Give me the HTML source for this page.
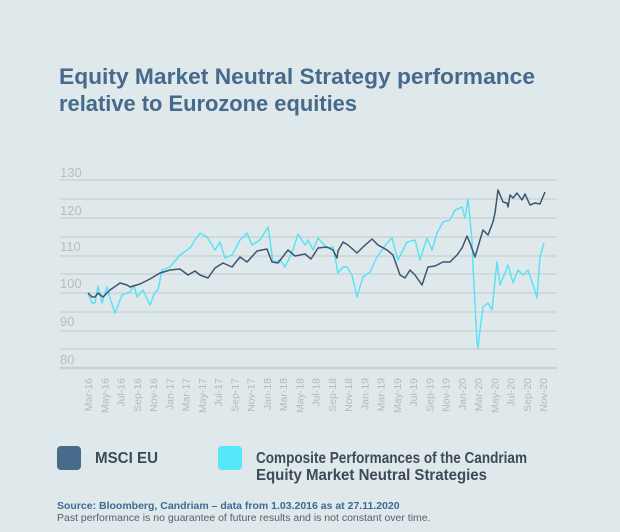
<!DOCTYPE html>
<html><head><meta charset="utf-8"><style>
html,body{margin:0;padding:0;background:#dfe8ea;}
svg{display:block;font-family:"Liberation Sans",Arial,sans-serif;}
</style></head><body>
<svg width="620" height="532" viewBox="0 0 620 532" xmlns="http://www.w3.org/2000/svg">
<rect width="620" height="532" fill="#dfe8ea"/>
<text x="59" y="84" font-size="22" font-weight="bold" fill="#466a8c" textLength="476" lengthAdjust="spacingAndGlyphs">Equity Market Neutral Strategy performance</text>
<text x="59" y="111" font-size="22" font-weight="bold" fill="#466a8c" textLength="298" lengthAdjust="spacingAndGlyphs">relative to Eurozone equities</text>
<g stroke="#c5d1d5" stroke-width="1.2">
<line x1="60" x2="557" y1="180" y2="180"/><line x1="60" x2="557" y1="199" y2="199"/>
<line x1="60" x2="557" y1="218" y2="218"/><line x1="60" x2="557" y1="237" y2="237"/>
<line x1="60" x2="557" y1="256" y2="256"/><line x1="60" x2="557" y1="274" y2="274"/>
<line x1="60" x2="557" y1="293" y2="293"/><line x1="60" x2="557" y1="312" y2="312"/>
<line x1="60" x2="557" y1="331" y2="331"/><line x1="60" x2="557" y1="349" y2="349"/>
</g>
<line x1="60" x2="557" y1="368" y2="368" stroke="#c5d1d5" stroke-width="2.5"/>
<g font-size="13" fill="#b3bfc4">
<text x="60" y="177">130</text><text x="60" y="215">120</text><text x="60" y="251">110</text>
<text x="60" y="288">100</text><text x="60" y="326">90</text><text x="60" y="364">80</text>
</g>
<polyline fill="none" stroke="#53e3f5" stroke-width="1.4" stroke-linejoin="round" points="88,293 92,303 95,303 98,286 102,303 107,287 110,298 115,313 122,295 130,292 134,285 137,297 143,290 150,305 155,292 158,290 162,270 170,267 180,255 190,248 195,240 200,233 207,237 215,250 220,242 225,258 232,255 240,240 247,233 252,245 260,240 268,227 273,262 280,260 285,267 293,250 298,234 305,245 308,240 313,250 318,238 327,248 333,247 338,273 343,267 347,267 352,275 357,297 363,277 370,272 377,257 382,250 387,243 392,238 398,260 407,242 415,240 420,260 427,238 432,250 437,233 443,222 450,220 455,210 462,207 465,218 468,199 472,240 473,267 477,342 478,348 480,330 483,307 488,303 492,310 497,262 500,285 505,273 508,265 513,283 518,270 523,275 528,270 533,285 537,298 540,257 544,243"/>
<polyline fill="none" stroke="#3b5573" stroke-width="1.5" stroke-linejoin="round" points="88,293 92,297 95,297 98,293 103,297 110,290 120,283 127,285 130,287 140,284 150,279 160,273 170,270 180,269 188,275 195,271 200,275 208,278 215,268 223,263 232,267 240,257 247,262 257,251 267,249 272,262 278,263 288,250 295,256 305,254 311,259 318,248 327,247 333,250 337,258 338,251 343,242 348,245 357,253 363,247 372,239 378,245 387,250 393,255 400,275 405,278 410,270 415,275 422,285 428,267 435,266 443,262 450,262 457,255 462,248 467,236 470,243 475,257 480,240 483,230 488,235 493,222 495,213 498,190 503,202 507,203 508,207 510,195 513,198 517,193 522,200 525,194 530,205 535,203 540,204 545,192"/>
<rect x="57" y="446" width="24" height="24" rx="4" fill="#486a8b"/>
<text x="95" y="463" font-size="15.5" font-weight="bold" fill="#3d4a58" textLength="63" lengthAdjust="spacingAndGlyphs">MSCI EU</text>
<rect x="218" y="446" width="24" height="24" rx="4" fill="#55e8fb"/>
<text x="256" y="463" font-size="15.5" font-weight="bold" fill="#3d4a58" textLength="271" lengthAdjust="spacingAndGlyphs">Composite Performances of the Candriam</text>
<text x="256" y="480" font-size="15.5" font-weight="bold" fill="#3d4a58" textLength="231" lengthAdjust="spacingAndGlyphs">Equity Market Neutral Strategies</text>
<text x="57" y="509" font-size="10.5" font-weight="bold" fill="#3e6a92">Source: Bloomberg, Candriam – data from 1.03.2016 as at 27.11.2020</text>
<text x="57" y="521" font-size="10.5" fill="#56606a">Past performance is no guarantee of future results and is not constant over time.</text>
<g font-size="10.5" fill="#b0bcc1" text-anchor="end">
<text transform="translate(92,378) rotate(-90)">Mar-16</text>
<text transform="translate(108.3,378) rotate(-90)">May-16</text>
<text transform="translate(124.5,378) rotate(-90)">Jul-16</text>
<text transform="translate(140.8,378) rotate(-90)">Sep-16</text>
<text transform="translate(157,378) rotate(-90)">Nov-16</text>
<text transform="translate(173.3,378) rotate(-90)">Jan-17</text>
<text transform="translate(189.5,378) rotate(-90)">Mar-17</text>
<text transform="translate(205.8,378) rotate(-90)">May-17</text>
<text transform="translate(222,378) rotate(-90)">Jul-17</text>
<text transform="translate(238.3,378) rotate(-90)">Sep-17</text>
<text transform="translate(254.5,378) rotate(-90)">Nov-17</text>
<text transform="translate(270.8,378) rotate(-90)">Jan-18</text>
<text transform="translate(287,378) rotate(-90)">Mar-18</text>
<text transform="translate(303.3,378) rotate(-90)">May-18</text>
<text transform="translate(319.5,378) rotate(-90)">Jul-18</text>
<text transform="translate(335.8,378) rotate(-90)">Sep-18</text>
<text transform="translate(352,378) rotate(-90)">Nov-18</text>
<text transform="translate(368.3,378) rotate(-90)">Jan-19</text>
<text transform="translate(384.5,378) rotate(-90)">Mar-19</text>
<text transform="translate(400.8,378) rotate(-90)">May-19</text>
<text transform="translate(417,378) rotate(-90)">Jul-19</text>
<text transform="translate(433.3,378) rotate(-90)">Sep-19</text>
<text transform="translate(449.5,378) rotate(-90)">Nov-19</text>
<text transform="translate(465.8,378) rotate(-90)">Jan-20</text>
<text transform="translate(482,378) rotate(-90)">Mar-20</text>
<text transform="translate(498.3,378) rotate(-90)">May-20</text>
<text transform="translate(514.5,378) rotate(-90)">Jul-20</text>
<text transform="translate(530.8,378) rotate(-90)">Sep-20</text>
<text transform="translate(547,378) rotate(-90)">Nov-20</text>
</g>
</svg>
</body></html>
